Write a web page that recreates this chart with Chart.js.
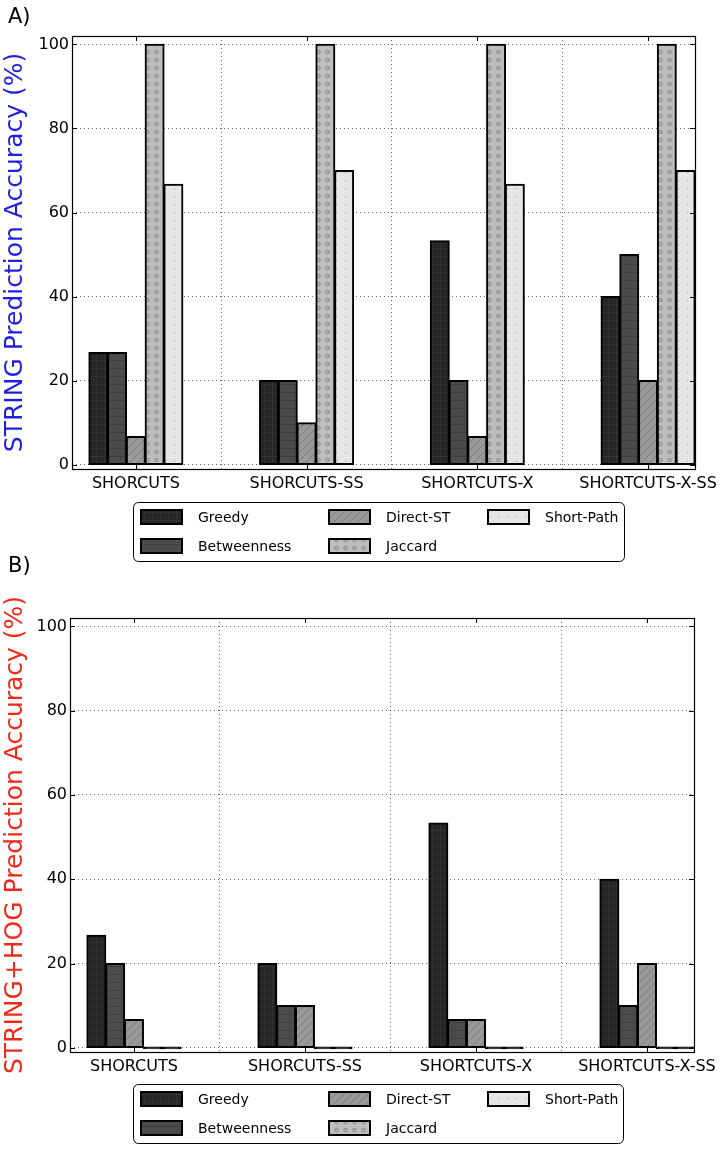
<!DOCTYPE html>
<html><head><meta charset="utf-8">
<script src="https://cdn.jsdelivr.net/npm/chart.js@4.4.1/dist/chart.umd.min.js"></script>
<style>
html,body{margin:0;padding:0;background:#fff;}
#wrap{position:relative;width:726px;height:1149px;overflow:hidden;}
.pane{position:absolute;left:0;width:726px;}
</style></head>
<body>
<div id="wrap">
<div class="pane" style="top:0;height:575px"><canvas id="cA"></canvas></div>
<div class="pane" style="top:550px;height:599px"><canvas id="cB"></canvas></div>
</div>
<script>
// ---- data ----
const categories = ['SHORCUTS', 'SHORCUTS-SS', 'SHORTCUTS-X', 'SHORTCUTS-X-SS'];
const seriesNames = ['Greedy', 'Betweenness', 'Direct-ST', 'Jaccard', 'Short-Path'];
const yTickValues = [0, 20, 40, 60, 80, 100];

// Panel A: STRING
const aGreedy      = [26.7, 20, 53.3, 40];
const aBetweenness = [26.7, 20, 20, 50];
const aDirectST    = [6.7, 10, 6.7, 20];
const aJaccard     = [100, 100, 100, 100];
const aShortPath   = [66.7, 70, 66.7, 70];

// Panel B: STRING+HOG
const bGreedy      = [26.7, 20, 53.3, 40];
const bBetweenness = [20, 10, 6.7, 10];
const bDirectST    = [6.7, 10, 6.7, 20];
const bJaccard     = [0, 0, 0, 0];
const bShortPath   = [0, 0, 0, 0];

const FONT = '"DejaVu Sans", sans-serif';

// ---- fill patterns ----
function makePattern(kind) {
  const c = document.createElement('canvas');
  const g = c.getContext('2d');
  let w = 8, h = 8;
  if (kind === 'jaccard') { w = 9; h = 8; }
  if (kind === 'short') { w = 9; h = 8; }
  c.width = w; c.height = h;
  g.lineWidth = 1;
  if (kind === 'greedy') {
    g.fillStyle = '#262626'; g.fillRect(0, 0, w, h);
    g.strokeStyle = '#333333';
    g.beginPath(); g.moveTo(0.5, 0); g.lineTo(0.5, h); g.moveTo(0, 0.5); g.lineTo(w, 0.5); g.stroke();
  } else if (kind === 'betw') {
    g.fillStyle = '#4b4b4b'; g.fillRect(0, 0, w, h);
    g.strokeStyle = '#3e3e3e';
    g.beginPath(); g.moveTo(0, 0.5); g.lineTo(w, 0.5); g.stroke();
  } else if (kind === 'direct') {
    g.fillStyle = '#9a9a9a'; g.fillRect(0, 0, w, h);
    g.strokeStyle = '#777777'; g.lineWidth = 0.9;
    g.beginPath();
    g.moveTo(0, h); g.lineTo(w, 0);
    g.moveTo(-2, 2); g.lineTo(2, -2);
    g.moveTo(w - 2, h + 2); g.lineTo(w + 2, h - 2);
    g.stroke();
  } else if (kind === 'jaccard') {
    g.fillStyle = '#bdbdbd'; g.fillRect(0, 0, w, h);
    g.strokeStyle = '#7c7c7c'; g.lineWidth = 0.9;
    g.beginPath(); g.arc(3.5, 4, 1.7, 0, Math.PI * 2); g.stroke();
  } else {
    g.fillStyle = '#e6e6e6'; g.fillRect(0, 0, w, h);
    g.fillStyle = '#ababab'; g.fillRect(3, 4, 1.2, 1.2);
  }
  return g.createPattern(c, 'repeat');
}
const patterns = ['greedy', 'betw', 'direct', 'jaccard', 'short'].map(makePattern);

// ---- plugins ----
const gridLegend = {
  id: 'gridLegend',
  afterDraw(chart, args, o) {
    const ctx = chart.ctx;
    ctx.save();
    ctx.beginPath();
    ctx.roundRect(o.x + 0.5, o.y + 0.5, o.w, o.h, 5);
    ctx.fillStyle = '#fff'; ctx.fill();
    ctx.lineWidth = 1; ctx.strokeStyle = '#000'; ctx.stroke();
    const colX = [o.x + 8, o.x + 196, o.x + 355];
    const rowY = [o.y + 15, o.y + 44];
    chart.data.datasets.forEach((ds, i) => {
      const col = Math.floor(i / 2), row = i % 2;
      const x = colX[col], y = rowY[row];
      ctx.fillStyle = patterns[i];
      ctx.fillRect(x, y - 7, 41, 14);
      ctx.lineWidth = 2; ctx.strokeStyle = '#000';
      ctx.strokeRect(x, y - 7, 41, 14);
      ctx.fillStyle = '#000';
      ctx.font = '14px ' + FONT;
      ctx.textAlign = 'left'; ctx.textBaseline = 'middle';
      ctx.fillText(ds.label, x + 57, y + 1);
    });
    ctx.restore();
  }
};

const decor = {
  id: 'decor',
  afterDraw(chart, args, o) {
    const ctx = chart.ctx;
    const a = chart.chartArea;
    const xs = chart.scales.x, ys = chart.scales.y;
    ctx.save();
    ctx.strokeStyle = '#000'; ctx.lineWidth = 1;
    ctx.beginPath();
    xs.ticks.forEach(t => {
      const px = Math.round(xs.getPixelForValue(t.value)) + 0.5;
      ctx.moveTo(px, a.top); ctx.lineTo(px, a.top + 5);
      ctx.moveTo(px, a.bottom); ctx.lineTo(px, a.bottom - 5);
    });
    ys.ticks.forEach(t => {
      const py = Math.round(ys.getPixelForValue(t.value)) + 0.5;
      ctx.moveTo(a.left, py); ctx.lineTo(a.left + 5, py);
      ctx.moveTo(a.right, py); ctx.lineTo(a.right - 5, py);
    });
    ctx.stroke();
    ctx.lineWidth = 1.2;
    ctx.strokeRect(Math.round(a.left) + 0.5, Math.round(a.top) + 0.5, Math.round(a.right - a.left), Math.round(a.bottom - a.top));
    ctx.fillStyle = '#000';
    ctx.font = '21px ' + FONT;
    ctx.textAlign = 'left'; ctx.textBaseline = 'alphabetic';
    ctx.fillText(o.label, 8, o.labelY);
    ctx.restore();
  }
};

function makeChart(id, series, cfg) {
  return new Chart(document.getElementById(id), {
    type: 'bar',
    data: {
      datasets: seriesNames.map((name, k) => ({
        label: name,
        data: series[k].map((v, i) => ({ x: i, y: v })),
        // a zero-height bar is drawn as a solid edge line, as in the source figure
        backgroundColor: c => (c.raw && c.raw.y === 0) ? '#000' : patterns[k],
        borderColor: '#000',
        borderWidth: 2,
        borderSkipped: false,
        inflateAmount: 0.6,
        minBarLength: cfg.minBar,
        categoryPercentage: 0.5497,
        barPercentage: 1.0
      }))
    },
    options: {
      responsive: true, maintainAspectRatio: false, animation: false, devicePixelRatio: 1,
      layout: { padding: { left: 0, top: cfg.top, right: cfg.right, bottom: cfg.bottom } },
      plugins: {
        legend: { display: false }, tooltip: { enabled: false },
        gridLegend: cfg.legend,
        decor: { label: cfg.label, labelY: cfg.labelY }
      },
      scales: {
        x: {
          type: 'linear', min: -0.374, max: 3.275, offset: false, z: 1,
          afterBuildTicks(s) { s.ticks = categories.map((c, i) => ({ value: i })); },
          afterFit(s) { s.height = 30; },
          ticks: { callback: v => categories[v], autoSkip: false, maxRotation: 0, minRotation: 0,
                   font: { family: FONT, size: 16 }, color: '#000', padding: 5 },
          grid: { color: 'rgba(0,0,0,0.75)', lineWidth: 0.8, drawTicks: false },
          border: { display: false, dash: [1, 3] }
        },
        y: {
          type: 'linear', min: -1, max: 102, z: 1,
          afterBuildTicks(s) { s.ticks = yTickValues.map(v => ({ value: v })); },
          afterFit(s) { s.width = cfg.yWidth; },
          ticks: { font: { family: FONT, size: 16 }, color: '#000', padding: 3 },
          grid: { color: 'rgba(0,0,0,0.75)', lineWidth: 0.8, drawTicks: false },
          border: { display: false, dash: [1, 3] },
          title: { display: true, text: cfg.title, color: cfg.titleColor,
                   font: { family: FONT, size: 25 }, padding: { top: 0, bottom: 0 } }
        }
      }
    },
    plugins: [gridLegend, decor]
  });
}

makeChart('cA', [aGreedy, aBetweenness, aDirectST, aJaccard, aShortPath], {
  top: 36, right: 31, bottom: 76, yWidth: 72, minBar: 0,
  title: 'STRING Prediction Accuracy (%)', titleColor: '#1f1fe0',
  label: 'A)', labelY: 23,
  legend: { x: 133, y: 502, w: 491, h: 59 }
});
makeChart('cB', [bGreedy, bBetweenness, bDirectST, bJaccard, bShortPath], {
  top: 68, right: 32, bottom: 67, yWidth: 70, minBar: 1.5,
  title: 'STRING+HOG Prediction Accuracy (%)', titleColor: '#ee2a1a',
  label: 'B)', labelY: 22,
  legend: { x: 133, y: 534, w: 490, h: 59 }
});
</script>
</body></html>
